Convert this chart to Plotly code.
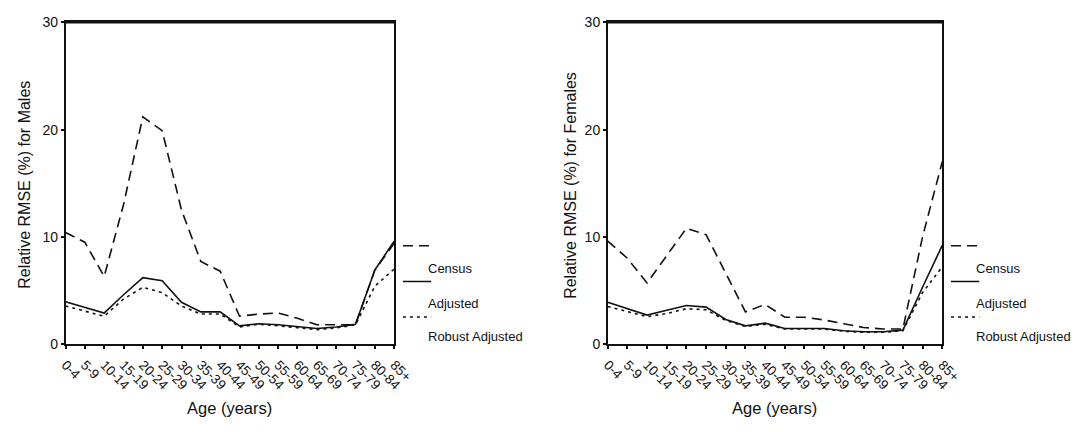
import plotly.graph_objects as go

# Age groups and relative RMSE (%) by estimation method
age_groups = ["0-4", "5-9", "10-14", "15-19", "20-24", "25-29", "30-34", "35-39",
              "40-44", "45-49", "50-54", "55-59", "60-64", "65-69", "70-74",
              "75-79", "80-84", "85+"]

males_census = [10.4, 9.5, 6.3, 13.0, 21.2, 19.9, 12.5, 7.7, 6.8, 2.6, 2.8, 2.9,
                2.4, 1.8, 1.8, 1.8, 6.9, 9.4]
males_adjusted = [3.95, 3.4, 2.9, 4.6, 6.2, 5.9, 3.9, 3.0, 3.0, 1.7, 1.9, 1.8,
                  1.65, 1.45, 1.6, 1.85, 6.9, 9.6]
males_robust = [3.55, 3.1, 2.6, 4.2, 5.3, 4.8, 3.55, 2.8, 2.8, 1.6, 1.85, 1.7,
                1.55, 1.35, 1.5, 1.8, 5.4, 7.0]

females_census = [9.6, 8.0, 5.7, 8.2, 10.8, 10.2, 6.6, 3.0, 3.7, 2.5, 2.5, 2.25,
                  1.9, 1.55, 1.4, 1.4, 10.0, 17.0]
females_adjusted = [3.9, 3.3, 2.7, 3.15, 3.6, 3.45, 2.3, 1.7, 1.95, 1.45, 1.45,
                    1.45, 1.25, 1.15, 1.15, 1.3, 5.3, 9.2]
females_robust = [3.5, 3.05, 2.55, 2.85, 3.3, 3.2, 2.2, 1.65, 1.85, 1.4, 1.4,
                  1.4, 1.2, 1.1, 1.1, 1.25, 4.8, 7.2]

method_names = ["Census", "Adjusted", "Robust Adjusted"]
method_dash = ["10px,6px", "solid", "3px,4px"]

W, H = 1089, 432
FONT = "Liberation Sans, Arial, sans-serif"
INK = "#111111"

# panel boxes in pixels: (left, right, top, bottom)
panels = [(60, 397, 15, 349), (616, 959, 15, 349)]
titles = ["Relative RMSE (%) for Males", "Relative RMSE (%) for Females"]
series = [
    [males_census, males_adjusted, males_robust],
    [females_census, females_adjusted, females_robust],
]

fig = go.Figure()

for i, (panel, data) in enumerate(zip(panels, series)):
    xa = "x" if i == 0 else "x2"
    ya = "y" if i == 0 else "y2"
    for vals, name, dash in zip(data, method_names, method_dash):
        fig.add_trace(go.Scatter(
            x=age_groups, y=vals, mode="lines", name=name,
            line=dict(color=INK, width=1.6, dash=dash),
            xaxis=xa, yaxis=ya, showlegend=False, cliponaxis=True,
        ))

layout = dict(
    width=W, height=H,
    margin=dict(l=0, r=0, t=0, b=0),
    paper_bgcolor="white", plot_bgcolor="white",
    font=dict(family=FONT, color=INK),
    showlegend=False,
)

for i, (l, r, t, b) in enumerate(panels):
    sfx = "" if i == 0 else "2"
    layout["xaxis" + sfx] = dict(
        domain=[l / W, r / W],
        anchor="y" + sfx,
        type="category",
        categoryorder="array", categoryarray=age_groups,
        range=[0, len(age_groups) - 1],
        tickangle=45,
        tickfont=dict(size=13.5, family=FONT, color=INK),
        ticks="outside", ticklen=3, tickwidth=1.5, tickcolor=INK,
        ticklabelstandoff=3,
        showline=True, linewidth=1.5, linecolor=INK, mirror=True,
        showgrid=False, zeroline=False, fixedrange=True,
    )
    layout["yaxis" + sfx] = dict(
        domain=[1 - b / H, 1 - t / H],
        anchor="x" + sfx,
        range=[0, 30], dtick=10,
        tickfont=dict(size=14, family=FONT, color=INK),
        ticks="outside", ticklen=3, tickwidth=1.5, tickcolor=INK,
        showline=True, linewidth=1.5, linecolor=INK, mirror=True,
        showgrid=False, zeroline=False, fixedrange=True,
    )

fig.update_layout(**layout)

# heavier top border of each panel
for l, r, t, b in panels:
    fig.add_shape(type="line", xref="paper", yref="paper",
                  x0=l / W, x1=r / W, y0=1 - t / H, y1=1 - t / H,
                  line=dict(color=INK, width=2.2))

# axis titles
ytitle_x = [18, 578]
for (l, r, t, b), title, yx in zip(panels, titles, ytitle_x):
    fig.add_annotation(
        text=title, xref="paper", yref="paper",
        x=yx / W, y=1 - 184 / H, textangle=-90, showarrow=False,
        xanchor="center", yanchor="middle",
        font=dict(size=16, family=FONT, color=INK),
    )
    fig.add_annotation(
        text="Age (years)", xref="paper", yref="paper",
        x=(l + r) / 2 / W, y=1 - 415 / H, showarrow=False,
        xanchor="center", yanchor="middle",
        font=dict(size=16.5, family=FONT, color=INK),
    )

# key beside each panel: line sample, then its label on the row below
line_rows = [247, 284, 321]
text_rows = [270, 307, 341]
for l, r, t, b in panels:
    for name, dash, ly, ty in zip(method_names, method_dash, line_rows, text_rows):
        fig.add_shape(type="line", xref="paper", yref="paper",
                      x0=(r + 9) / W, x1=(r + 38) / W,
                      y0=1 - ly / H, y1=1 - ly / H,
                      line=dict(color=INK, width=1.5, dash=dash))
        fig.add_annotation(
            text=name, xref="paper", yref="paper",
            x=(r + 33) / W, y=1 - ty / H, showarrow=False,
            xanchor="left", yanchor="middle",
            font=dict(size=13, family=FONT, color=INK),
        )

fig.write_html("out.html")
